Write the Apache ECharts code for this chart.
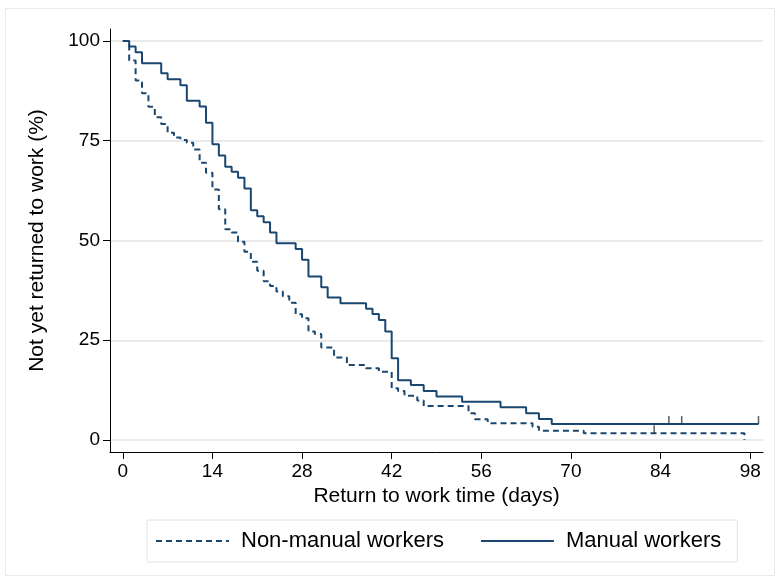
<!DOCTYPE html>
<html><head><meta charset="utf-8">
<script src="https://cdn.jsdelivr.net/npm/echarts@6/dist/echarts.min.js"></script>
<style>html,body{margin:0;padding:0;background:#fff}#chart{width:781px;height:582px}</style>
</head><body><div id="chart"></div>
<script>
// Kaplan-Meier step data (day of step, % not yet returned after step)
const nonManualDays = [0,1,2,3,4,5,6,7,8,9,10,11,12,13,14,15,16,17,18,19,20,21,22,23,24,25,26,27,28,29,30,31,33,35,38,40,42,43,44,46,47,54,55,57,64,65,72,97.1];
const nonManualPct  = [100,95.1,90.1,86.9,83.5,80.9,79.2,77.0,75.8,75.2,74.5,72.8,69.5,67.0,62.8,57.8,52.8,52.0,49.7,47.2,44.7,42.4,39.8,38.6,37.2,36.0,34.4,31.5,30.5,27.2,26.6,23.2,20.7,18.8,18.0,17.1,13.0,12.3,11.1,9.9,8.5,6.7,5.2,4.2,3.3,2.3,1.7,0];
const manualDays = [0,1,2,3,6,7,9,10,12,13,14,15,16,17,18,19,20,21,22,23,24,27,28,29,31,32,34,38,39,40,41,42,43,45,47,49,53,59,63,65,67,99.3];
const manualPct  = [100,98.6,97.2,94.4,91.9,90.4,88.9,85.0,83.6,79.5,74.1,71.3,68.5,67.2,65.7,63.0,57.6,56.1,54.6,52.0,49.3,47.9,45.2,41.0,38.3,35.7,34.3,32.9,31.6,30.1,27.2,20.5,15.0,13.8,12.3,10.9,9.6,8.2,6.7,5.3,4.0,4.0];
// censoring marks
const nonManualCensorDays = [83.0];
const nonManualCensorPct  = [1.7];
const manualCensorDays = [85.3, 87.3, 99.3];
const manualCensorPct  = [4.0, 4.0, 4.0];
// ticks
const xTicks = [0,14,28,42,56,70,84,98];
const yTicks = [0,25,50,75,100];
const seriesNames = ['Non-manual workers', 'Manual workers'];

const zip = (a, b) => a.map((v, i) => [v, b[i]]);
const FONT = "'Liberation Sans', Arial, sans-serif";
const LINE = '#1a476f';

const chart = echarts.init(document.getElementById('chart'), null, {renderer: 'canvas'});
chart.setOption({
  animation: false,
  backgroundColor: '#ffffff',
  textStyle: {fontFamily: FONT, color: '#000'},
  graphic: [{
    type: 'rect', silent: true, z: -10,
    shape: {x: 5.5, y: 8.5, width: 769, height: 567},
    style: {fill: 'none', stroke: '#e6ecee', lineWidth: 1}
  }],
  grid: {left: 110, right: 18, top: 29, bottom: 130, containLabel: false},
  legend: {
    data: seriesNames,
    left: 147, top: 520,
    padding: [10, 16, 10, 8],
    itemGap: 36,
    itemWidth: 73, itemHeight: 14,
    itemStyle: {opacity: 0},
    borderColor: '#dfe6e8', borderWidth: 1,
    backgroundColor: '#fff',
    textStyle: {fontFamily: FONT, fontSize: 22, color: '#000', padding: [0, 0, 0, 7]}
  },
  xAxis: {
    type: 'value', min: -2, max: 100,
    name: 'Return to work time (days)', nameLocation: 'middle', nameGap: 33,
    nameTextStyle: {fontFamily: FONT, fontSize: 21, color: '#000'},
    axisLine: {show: true, onZero: false, lineStyle: {color: '#000', width: 1}},
    axisTick: {show: true, length: 7, customValues: xTicks, lineStyle: {color: '#000'}},
    axisLabel: {customValues: xTicks, fontFamily: FONT, fontSize: 19, color: '#000', margin: 10},
    splitLine: {show: false}
  },
  yAxis: {
    type: 'value', min: -3, max: 103,
    name: 'Not yet returned to work (%)', nameLocation: 'middle', nameGap: 62, nameRotate: 90,
    nameTextStyle: {fontFamily: FONT, fontSize: 21, color: '#000'},
    axisLine: {show: true, onZero: false, lineStyle: {color: '#000', width: 1}},
    axisTick: {show: true, length: 7, customValues: yTicks, lineStyle: {color: '#000'}},
    axisLabel: {customValues: yTicks, fontFamily: FONT, fontSize: 19, color: '#000', margin: 10},
    splitLine: {show: true, lineStyle: {color: '#e3e3e3', width: 1.5}}
  },
  series: [
    {
      name: seriesNames[0], type: 'line', step: 'end', symbol: 'none', showSymbol: false,
      data: zip(nonManualDays, nonManualPct),
      lineStyle: {color: LINE, width: 2, type: [6, 4]},
      itemStyle: {color: LINE}, z: 3
    },
    {
      name: seriesNames[1], type: 'line', step: 'end', symbol: 'none', showSymbol: false,
      data: zip(manualDays, manualPct),
      lineStyle: {color: LINE, width: 2, type: 'solid'},
      itemStyle: {color: LINE}, z: 4
    },
    {
      name: 'censor-nm', type: 'scatter', symbol: 'rect', symbolSize: [1.5, 8], symbolOffset: [0, -4],
      data: zip(nonManualCensorDays, nonManualCensorPct),
      itemStyle: {color: '#333'}, z: 5
    },
    {
      name: 'censor-m', type: 'scatter', symbol: 'rect', symbolSize: [1.5, 8], symbolOffset: [0, -4],
      data: zip(manualCensorDays, manualCensorPct),
      itemStyle: {color: '#333'}, z: 5
    }
  ]
});
</script>
</body></html>
